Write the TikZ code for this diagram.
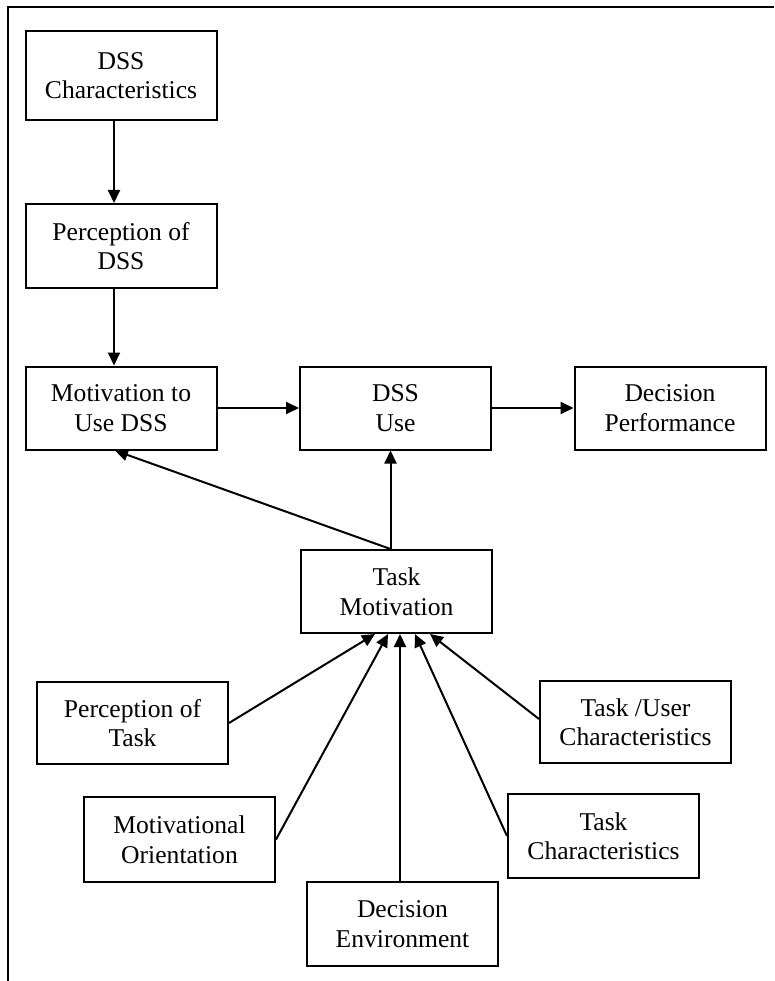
\documentclass[tikz,border=0pt]{standalone}
\usepackage{fontspec}
\setmainfont{Liberation Serif}
\usetikzlibrary{arrows.meta}

\tikzset{
  box/.style={draw, line width=2pt, minimum width=191pt, minimum height=83pt,
    align=center, inner sep=2pt,
    font=\fontsize{25.6}{29.5}\selectfont},
  arr/.style={line width=2pt, -{Triangle[length=13pt,width=12pt]}},
  link/.style={line width=2pt}
}

\begin{document}
\begin{tikzpicture}[x=1pt,y=-1pt]
\useasboundingbox (0,0) rectangle (774,981);

% open frame: top and left edges only
\draw[link] (774,7) -- (8,7) -- (8,981);

% upper chain
\node[box, minimum height=89pt] (dc) at (121,75.5) {DSS\\Characteristics};
\node[box, minimum height=84pt] (pd) at (121,246) {Perception of\\DSS};
\node[box] (mu) at (121,408) {Motivation to\\Use DSS};
\node[box] (du) at (395.5,408) {DSS\\Use};
\node[box] (dp) at (670,408) {Decision\\Performance};

% task side
\node[box] (tm) at (396.5,591.5) {Task\\Motivation};
\node[box, minimum height=82pt] (pt) at (132.5,723) {Perception of\\Task};
\node[box, minimum height=82pt] (tu) at (635.5,722) {Task /User\\Characteristics};
\node[box, minimum height=85pt] (mo) at (179.5,839.5) {Motivational\\Orientation};
\node[box, minimum height=84pt] (tc) at (603.5,836) {Task\\Characteristics};
\node[box, minimum height=84pt] (de) at (402.5,924) {Decision\\Environment};

% connectors of the upper chain
\draw[arr] ([xshift=-7pt]dc.south) -- ([xshift=-7pt]pd.north);
\draw[arr] ([xshift=-7pt]pd.south) -- ([xshift=-7pt]mu.north);
\draw[arr] (mu.east) -- (du.west);
\draw[arr] (du.east) -- (dp.west);

% task motivation feeds DSS use and motivation to use
\coordinate (tmtop) at ([xshift=-6pt]tm.north);
\draw[arr] (tmtop) -- (tmtop |- du.south);
\draw[arr] (tmtop) -- ([xshift=-6pt]mu.south);

% antecedents of task motivation
\draw[arr] (pt.east) -- ([xshift=-21.5pt]tm.south);
\draw[arr] (mo.east) -- ([xshift=-8.5pt]tm.south);
\draw[arr] ([xshift=3.5pt]tm.south |- de.north) -- ([xshift=3.5pt]tm.south);
\draw[arr] (tc.west) -- ([xshift=18.5pt]tm.south);
\draw[arr] ([yshift=3pt]tu.west) -- ([xshift=33.5pt]tm.south);
\end{tikzpicture}
\end{document}
